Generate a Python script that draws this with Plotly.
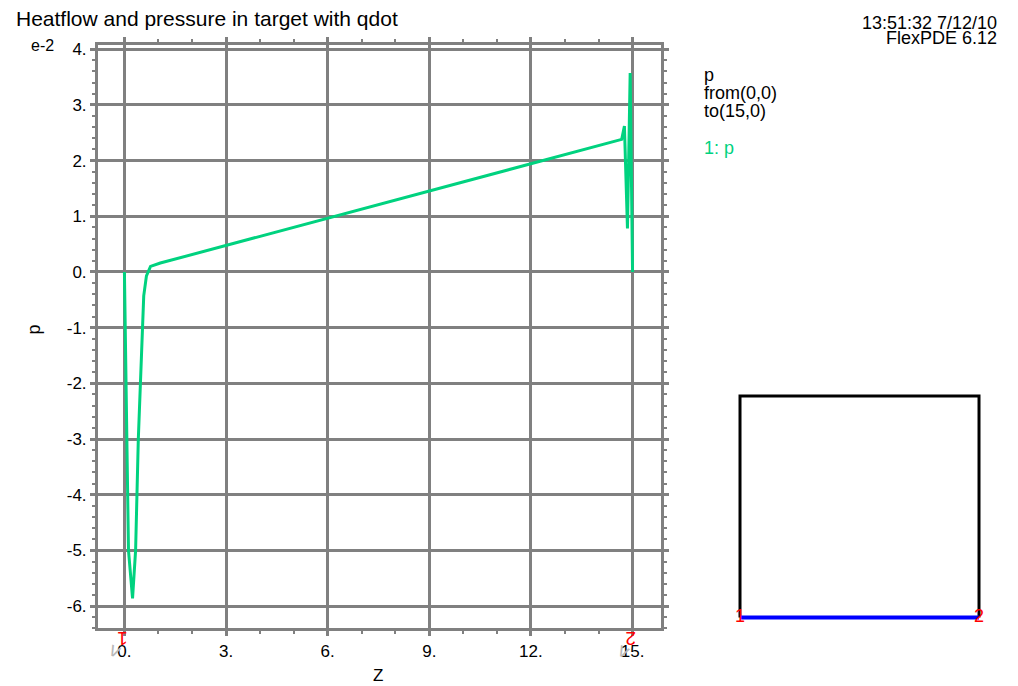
import plotly.graph_objects as go

# ---- data ----
z_vals = [0.0, 0.06, 0.12, 0.24, 0.33, 0.41, 0.47, 0.53, 0.57, 0.65, 0.77, 1.06,
          6.0, 12.0, 14.68, 14.76, 14.85, 14.93, 15.0]
p_vals = [0.0, -3.0, -5.0, -5.86, -5.0, -3.0, -2.0, -1.0, -0.43, -0.07, 0.10, 0.16,
          0.97, 1.95, 2.38, 2.62, 0.78, 3.57, 0.0]

x_ticks = [0, 3, 6, 9, 12, 15]
x_ticktext = ["0.", "3.", "6.", "9.", "12.", "15."]
y_ticks = [-6, -5, -4, -3, -2, -1, 0, 1, 2, 3, 4]
y_ticktext = ["-6.", "-5.", "-4.", "-3.", "-2.", "-1.", "0.", "1.", "2.", "3.", "4."]

# domain outline (right-hand inset) and the cut line
domain_x = [0, 0, 15, 15]
domain_y = [0, 14, 14, 0]
cut_x = [0, 15]
cut_y = [0, 0]
cut_labels = ["1", "2"]

legend_lines = ["p", "from(0,0)", "to(15,0)"]
series_label = "1: p"

GREEN = "#00d27f"
GREY = "#808080"
FONT = "Liberation Sans, Arial, sans-serif"
W, H = 1018, 686

def px_x(p):
    return p / W

def px_y(p):
    return 1 - p / H

fig = go.Figure()

fig.add_trace(go.Scatter(x=z_vals, y=p_vals, mode="lines",
                         line=dict(color=GREEN, width=3),
                         xaxis="x", yaxis="y", showlegend=False))

# inset domain
fig.add_trace(go.Scatter(x=domain_x, y=domain_y, mode="lines",
                         line=dict(color="black", width=3),
                         xaxis="x2", yaxis="y2", showlegend=False))
fig.add_trace(go.Scatter(x=cut_x, y=cut_y, mode="lines+text",
                         line=dict(color="#0000ff", width=4),
                         text=cut_labels, textposition="middle center",
                         textfont=dict(color="red", size=18, family=FONT),
                         cliponaxis=False,
                         xaxis="x2", yaxis="y2", showlegend=False))

axis_common = dict(showline=True, linewidth=3, linecolor=GREY, mirror="allticks",
                   showgrid=True, gridwidth=3, gridcolor=GREY, zeroline=False,
                   ticks="outside", ticklen=5, tickwidth=3, tickcolor=GREY,
                   tickfont=dict(family=FONT, size=17, color="black"))

fig.update_layout(
    width=W, height=H,
    margin=dict(l=0, r=0, t=0, b=0),
    paper_bgcolor="white", plot_bgcolor="white",
    xaxis=dict(domain=[px_x(98), px_x(661)], range=[-0.78, 15.84],
               tickvals=x_ticks, ticktext=x_ticktext, anchor="y",
               minor=dict(dtick=1, ticks="outside", ticklen=3, tickwidth=2,
                          tickcolor=GREY, showgrid=False),
               **axis_common),
    yaxis=dict(domain=[px_y(628), px_y(40)], range=[-6.40, 4.08],
               tickvals=y_ticks, ticktext=y_ticktext, anchor="x",
               minor=dict(dtick=0.2, ticks="outside", ticklen=3, tickwidth=2,
                          tickcolor=GREY, showgrid=False),
               **axis_common),
    xaxis2=dict(domain=[px_x(730), px_x(990)], range=[-0.628, 15.69],
                visible=False, anchor="y2"),
    yaxis2=dict(domain=[px_y(627), px_y(383)], range=[-0.628, 14.69],
                visible=False, anchor="x2"),
)

ann = []
ann.append(dict(text="Heatflow and pressure in target with qdot", x=px_x(14), y=px_y(14),
                xanchor="left", yanchor="middle", font=dict(size=21)))
ann.append(dict(text="13:51:32 7/12/10", x=px_x(999), y=px_y(18),
                xanchor="right", yanchor="middle", font=dict(size=18)))
ann.append(dict(text="FlexPDE 6.12", x=px_x(999), y=px_y(33),
                xanchor="right", yanchor="middle", font=dict(size=18)))
ann.append(dict(text="e-2", x=px_x(29), y=px_y(41),
                xanchor="left", yanchor="middle", font=dict(size=16)))
ann.append(dict(text="Z", x=px_x(378), y=px_y(675),
                xanchor="center", yanchor="middle", font=dict(size=17)))
ann.append(dict(text="p", x=px_x(34), y=px_y(327), textangle=-90,
                xanchor="center", yanchor="middle", font=dict(size=18)))
for i, t in enumerate(legend_lines):
    ann.append(dict(text=t, x=px_x(702), y=px_y(71 + i * 18),
                    xanchor="left", yanchor="middle", font=dict(size=18)))
ann.append(dict(text=series_label, x=px_x(702), y=px_y(144),
                xanchor="left", yanchor="middle", font=dict(size=18, color=GREEN)))

# path end markers on the z axis
for zv, lab in [(cut_x[0], cut_labels[0]), (cut_x[1], cut_labels[1])]:
    ann.append(dict(text=lab, x=zv, xref="x", y=px_y(638), yref="paper",
                    textangle=180, xanchor="center", yanchor="middle",
                    font=dict(size=19, color="red"), xshift=-2))
    ann.append(dict(text="v", x=zv, xref="x", y=px_y(650), yref="paper",
                    textangle=25, xanchor="center", yanchor="middle",
                    font=dict(size=20, color="#b8b8b8"), xshift=-9))

for a in ann:
    a.setdefault("xref", "paper")
    a.setdefault("yref", "paper")
    a["showarrow"] = False
    a["font"].setdefault("family", FONT)
    a["font"].setdefault("color", "black")
fig.update_layout(annotations=ann)

fig.write_html("out.html")
